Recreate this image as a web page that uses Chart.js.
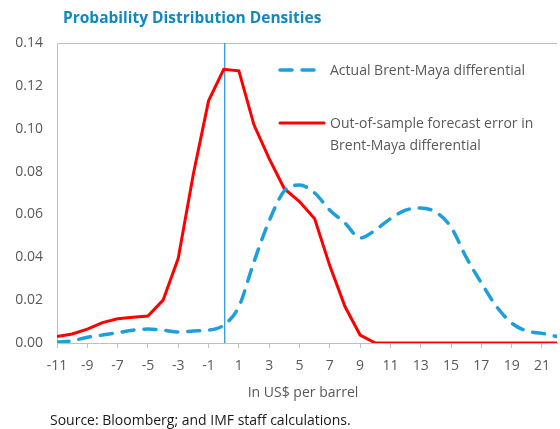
<!DOCTYPE html>
<html>
<head>
<meta charset="utf-8">
<script src="https://cdn.jsdelivr.net/npm/chart.js@4"></script>
<style>
  html, body { margin: 0; padding: 0; background: #fff; }
  #wrap { width: 560px; height: 429px; position: relative; }
</style>
</head>
<body>
<div id="wrap"><canvas id="densityChart"></canvas></div>
<script>
// US$ per barrel
const xValues = [-11, -10, -9, -8, -7, -6, -5, -4, -3, -2, -1, 0, 1, 2, 3, 4, 5, 6, 7, 8, 9, 10,
                 11, 12, 13, 14, 15, 16, 17, 18, 19, 20, 21, 22];
const actualDiff = [0.0005, 0.001, 0.0027, 0.0037, 0.0048, 0.006, 0.0065, 0.006, 0.0051, 0.0056, 0.006, 0.0084,
                    0.017, 0.038, 0.057, 0.071, 0.0737, 0.070, 0.062, 0.056, 0.049, 0.0527,
                    0.058, 0.062, 0.063, 0.061, 0.054, 0.040, 0.028, 0.017, 0.0093, 0.0056, 0.0045, 0.003];
const forecastError = [0.003, 0.0042, 0.0065, 0.0095, 0.0113, 0.012, 0.0126, 0.020, 0.0395, 0.079, 0.113, 0.1277,
                       0.127, 0.1017, 0.086, 0.072, 0.066, 0.058, 0.036, 0.017, 0.0037, 0,
                       0, 0, 0, 0, 0, 0, 0, 0, 0, 0, 0, 0];
const xTicks = [-11, -9, -7, -5, -3, -1, 1, 3, 5, 7, 9, 11, 13, 15, 17, 19, 21];
const yTicks = [0, 0.02, 0.04, 0.06, 0.08, 0.10, 0.12, 0.14];
const markerX = 0;

const FONT = '"Open Sans", "Noto Sans", sans-serif';
const GREY = '#595959';

const decorPlugin = {
    id: 'decor',
    beforeDatasetsDraw(chart) {
        const { ctx, chartArea, scales } = chart;
        ctx.save();
        // frame
        ctx.strokeStyle = '#bfbfbf';
        ctx.lineWidth = 1;
        ctx.beginPath();
        ctx.moveTo(chartArea.left + 0.5, chartArea.bottom);
        ctx.lineTo(chartArea.left + 0.5, chartArea.top + 0.5);
        ctx.lineTo(chartArea.right, chartArea.top + 0.5);
        ctx.stroke();
        // zero marker line
        const px = scales.x.getPixelForValue(markerX) + 1;
        ctx.strokeStyle = '#2f9ad8';
        ctx.lineWidth = 1.3;
        ctx.beginPath();
        ctx.moveTo(px, chartArea.top);
        ctx.lineTo(px, chartArea.bottom);
        ctx.stroke();
        ctx.restore();
    },
    afterDraw(chart) {
        const { ctx } = chart;
        const ds = chart.data.datasets;
        ctx.save();
        // title
        ctx.font = 'bold 15.5px ' + FONT;
        ctx.fillStyle = '#1287c0';
        ctx.textBaseline = 'middle';
        ctx.textAlign = 'left';
        ctx.fillText('Probability Distribution Densities', 63, 19);

        // legend
        ctx.lineCap = 'round';
        ctx.strokeStyle = ds[0].borderColor;
        ctx.lineWidth = ds[0].borderWidth;
        ctx.setLineDash(ds[0].borderDash);
        ctx.beginPath();
        ctx.moveTo(280, 70);
        ctx.lineTo(322, 70);
        ctx.stroke();
        ctx.setLineDash([]);
        ctx.strokeStyle = ds[1].borderColor;
        ctx.lineWidth = ds[1].borderWidth;
        ctx.beginPath();
        ctx.moveTo(280, 123);
        ctx.lineTo(324, 123);
        ctx.stroke();

        ctx.font = '14px ' + FONT;
        ctx.fillStyle = GREY;
        ctx.fillText('Actual Brent-Maya differential', 330, 71);
        ctx.fillText('Out-of-sample forecast error in', 330, 124);
        ctx.fillText('Brent-Maya differential', 330, 146);

        // axis title
        ctx.textAlign = 'center';
        ctx.fillText('In US$ per barrel', 303, 393);

        // source
        ctx.textAlign = 'left';
        ctx.fillStyle = '#1a1a1a';
        ctx.font = '14px ' + FONT;
        ctx.fillText('Source: Bloomberg; and IMF staff calculations.', 50, 421);
        ctx.restore();
    }
};

const ctx = document.getElementById('densityChart').getContext('2d');
new Chart(ctx, {
    type: 'line',
    data: {
        datasets: [
            {
                label: 'Actual Brent-Maya differential',
                data: xValues.map((x, i) => ({ x: x, y: actualDiff[i] })),
                borderColor: '#1e9fdc',
                borderWidth: 3.5,
                borderDash: [12, 10],
                borderCapStyle: 'round',
                cubicInterpolationMode: 'monotone',
                tension: 0.4,
                pointRadius: 0,
                fill: false
            },
            {
                label: 'Out-of-sample forecast error in Brent-Maya differential',
                data: xValues.map((x, i) => ({ x: x, y: forecastError[i] })),
                borderColor: '#ff0000',
                borderWidth: 3,
                tension: 0,
                pointRadius: 0,
                fill: false
            }
        ]
    },
    options: {
        responsive: true,
        maintainAspectRatio: false,
        animation: false,
        layout: { padding: { top: 43, right: 0, left: 0, bottom: 0 } },
        plugins: {
            legend: { display: false },
            tooltip: { enabled: false }
        },
        scales: {
            x: {
                type: 'linear',
                min: xValues[0],
                max: xValues[xValues.length - 1],
                afterBuildTicks: (axis) => { axis.ticks = xTicks.map(v => ({ value: v })); },
                afterFit: (axis) => { axis.height = 86; },
                grid: { display: true, drawOnChartArea: false, color: '#bfbfbf', tickLength: 5 },
                border: { display: true, color: '#bfbfbf' },
                ticks: {
                    autoSkip: false,
                    maxRotation: 0,
                    padding: 10,
                    color: GREY,
                    font: { family: FONT, size: 14 }
                }
            },
            y: {
                min: 0,
                max: 0.14,
                afterBuildTicks: (axis) => { axis.ticks = yTicks.map(v => ({ value: v })); },
                afterFit: (axis) => { axis.width = 57; },
                grid: { display: false },
                border: { display: false },
                ticks: {
                    padding: 6,
                    color: GREY,
                    font: { family: FONT, size: 14 },
                    callback: (v) => v.toFixed(2)
                }
            }
        }
    },
    plugins: [decorPlugin]
});
</script>
</body>
</html>
